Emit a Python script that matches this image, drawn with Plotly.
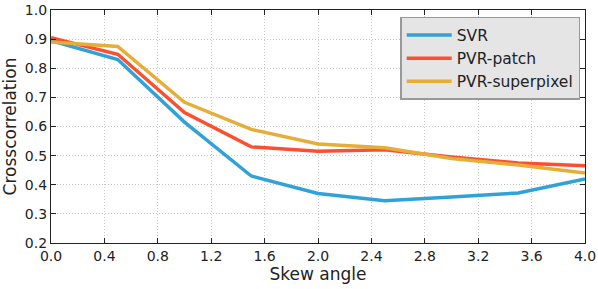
import plotly.graph_objects as go

skew = [0.0, 0.5, 1.0, 1.5, 2.0, 2.5, 3.0, 3.5, 4.0]
svr = [0.895, 0.83, 0.615, 0.43, 0.37, 0.345, 0.358, 0.372, 0.42]
pvr_patch = [0.905, 0.848, 0.648, 0.53, 0.515, 0.52, 0.495, 0.475, 0.465]
pvr_super = [0.89, 0.875, 0.683, 0.59, 0.54, 0.527, 0.49, 0.468, 0.44]
names = ["SVR", "PVR-patch", "PVR-superpixel"]
colors = ["#30a2da", "#fc4f30", "#e5ae38"]

xticks = [0.0, 0.4, 0.8, 1.2, 1.6, 2.0, 2.4, 2.8, 3.2, 3.6, 4.0]
yticks = [0.2, 0.3, 0.4, 0.5, 0.6, 0.7, 0.8, 0.9, 1.0]

fig = go.Figure()
for name, ys, c in zip(names, [svr, pvr_patch, pvr_super], colors):
    fig.add_trace(go.Scatter(x=skew, y=ys, mode="lines", name=name,
                             line=dict(color=c, width=3.5)))

axis_common = dict(showline=True, linecolor="#222", linewidth=1.2, mirror="ticks",
                   ticks="inside", ticklen=5, tickcolor="#222",
                   showgrid=True, gridcolor="#c8c8c8", griddash="1px,2px", gridwidth=1,
                   zeroline=False, automargin=False, tickfont=dict(size=14, color="#222"))

fig.update_layout(
    width=598, height=289,
    margin=dict(l=51, r=13, t=10, b=46),
    paper_bgcolor="white", plot_bgcolor="white",
    font=dict(family="DejaVu Sans", color="#222"),
    showlegend=True,
    legend=dict(x=0.991, y=0.97, xanchor="right", yanchor="top",
                bgcolor="#e5e5e5", bordercolor="#999", borderwidth=1.5,
                font=dict(size=15.5), itemwidth=45, tracegroupgap=0),
    xaxis=dict(range=[0, 4], tickvals=xticks, ticktext=[f"{v:.1f}" for v in xticks],
               title=dict(text="Skew angle", font=dict(size=17), standoff=4), **axis_common),
    yaxis=dict(range=[0.2, 1.0], tickvals=yticks, ticktext=[f"{v:.1f}" for v in yticks],
               title=dict(text="Crosscorrelation", font=dict(size=17), standoff=3), **axis_common),
)
fig.write_html("out.html", config={"displayModeBar": False},
               post_script="document.body.style.margin='0';")
